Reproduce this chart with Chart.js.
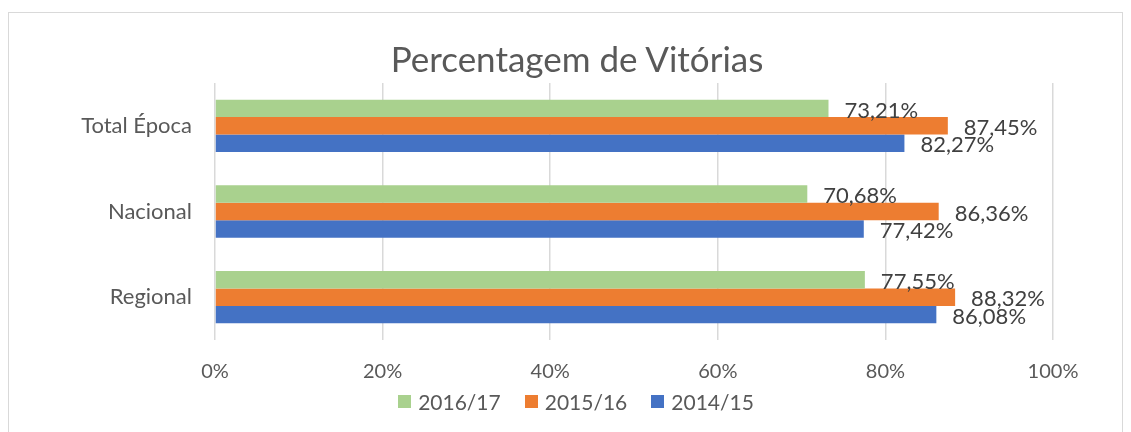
<!DOCTYPE html>
<html>
<head>
<meta charset="utf-8">
<script src="https://cdn.jsdelivr.net/npm/chart.js@4/dist/chart.umd.min.js"></script>
<style>
  body { margin: 0; background: #fff; font-family: Lato, "Open Sans", sans-serif; color: #595959; }
  #box { position: absolute; left: 8px; top: 12px; width: 1113px; height: 420px; border: 1px solid #d9d9d9; }
  #titulo { position: absolute; left: 277px; width: 600px; top: 37px; height: 42px; line-height: 42px;
            text-align: center; font-size: 35px; }
  #legenda { position: absolute; left: 276px; width: 600px; top: 388px; height: 26px;
             display: flex; justify-content: center; align-items: center; font-size: 21px; }
  #legenda span.item { display: flex; align-items: center; margin: 0 12px; }
  #legenda span.cx { width: 13px; height: 13px; margin-right: 7px; display: inline-block; }
</style>
</head>
<body>
<div id="box"><canvas id="chart"></canvas></div>
<div id="titulo">Percentagem de Vitórias</div>
<div id="legenda"></div>
<script>
// Percentagem de Vitórias - barras horizontais por época
const categorias = ['Total Época', 'Nacional', 'Regional'];
const epocas = ['2016/17', '2015/16', '2014/15'];
const vit1617 = [73.21, 70.68, 77.55];
const vit1516 = [87.45, 86.36, 88.32];
const vit1415 = [82.27, 77.42, 86.08];
const ticksX = [0, 20, 40, 60, 80, 100];

const cores = ['#A9D18E', '#ED7D31', '#4472C4'];
const FONTE = 'Lato, "Open Sans", sans-serif';

const fmt = v => v.toFixed(2).replace('.', ',') + '%';

// legenda (estilo Excel, centrada no gráfico inteiro)
const leg = document.getElementById('legenda');
epocas.forEach((ep, i) => {
    const item = document.createElement('span');
    item.className = 'item';
    item.innerHTML = `<span class="cx" style="background:${cores[i]}"></span>${ep}`;
    leg.appendChild(item);
});

// rótulos de dados à direita das barras
const rotulos = {
    id: 'rotulos',
    afterDatasetsDraw(chart) {
        const ctx = chart.ctx;
        ctx.save();
        ctx.font = '22px ' + FONTE;
        ctx.fillStyle = '#404040';
        ctx.textAlign = 'left';
        ctx.textBaseline = 'middle';
        chart.data.datasets.forEach((ds, i) => {
            const meta = chart.getDatasetMeta(i);
            meta.data.forEach((bar, j) => {
                ctx.fillText(fmt(ds.data[j]), bar.x + 16, bar.y + 2);
            });
        });
        ctx.restore();
    }
};

new Chart(document.getElementById('chart'), {
    type: 'bar',
    data: {
        labels: categorias,
        datasets: [
            { label: epocas[0], data: vit1617, backgroundColor: cores[0] },
            { label: epocas[1], data: vit1516, backgroundColor: cores[1] },
            { label: epocas[2], data: vit1415, backgroundColor: cores[2] }
        ]
    },
    options: {
        indexAxis: 'y',
        responsive: true,
        maintainAspectRatio: false,
        animation: false,
        categoryPercentage: 0.61,
        barPercentage: 1,
        layout: { padding: { left: 0, right: 69, top: 70, bottom: 29 } },
        plugins: {
            title: { display: false },
            legend: { display: false },
            tooltip: { enabled: false }
        },
        scales: {
            x: {
                min: 0,
                max: 100,
                afterBuildTicks: s => { s.ticks = ticksX.map(v => ({ value: v })); },
                ticks: {
                    callback: v => v + '%',
                    color: '#595959',
                    font: { family: FONTE, size: 20 },
                    padding: 20
                },
                grid: { color: '#d9d9d9', lineWidth: 1.5, drawTicks: false },
                border: { display: false }
            },
            y: {
                afterFit: s => { s.width = 206; },
                ticks: {
                    color: '#595959',
                    font: { family: FONTE, size: 22 },
                    padding: 23
                },
                grid: { display: false, drawTicks: false },
                border: { display: false }
            }
        }
    },
    plugins: [rotulos]
});
</script>
</body>
</html>
